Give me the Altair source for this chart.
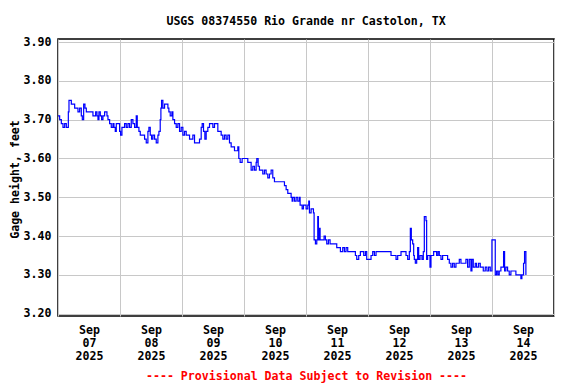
import altair as alt
import pandas as pd

# Hours since 2025-09-07 00:00 and gage height (feet)
hours = [
    0.0, 0.64, 1.29, 1.93, 2.58, 3.22, 3.87, 4.0, 4.25, 4.77, 5.16, 5.80, 6.45, 7.09, 7.73, 8.38,
    9.02, 9.41, 9.93, 10.44, 10.96, 11.6, 12.25, 12.89, 13.53, 14.18, 14.57, 15.08, 15.47, 15.85,
    16.37, 16.89, 17.40, 18.05, 18.43, 18.95, 19.34, 19.98, 20.62, 21.27, 21.66, 22.17, 22.56,
    23.2, 23.85, 24.23, 24.75, 25.14, 25.78, 26.42, 27.07, 27.71, 28.36, 29.0, 29.65, 30.29,
    30.68, 31.32, 31.84, 32.23, 32.87, 33.51, 34.16, 34.8, 35.19, 35.71, 36.22, 36.74, 37.38,
    38.03, 38.67, 39.06, 39.57, 39.83, 40.09, 40.6, 41.25, 41.89, 42.54, 42.92, 43.44, 44.08,
    44.47, 45.12, 45.76, 46.4, 47.05, 47.69, 48.34, 48.98, 49.63, 50.27, 50.92, 51.56, 52.2,
    52.85, 53.49, 54.14, 54.78, 55.43, 55.81, 56.33, 56.85, 57.36, 58.0, 58.65, 59.29, 59.94,
    60.58, 61.23, 61.87, 62.52, 63.16, 63.81, 64.45, 65.09, 65.74, 66.38, 67.03, 67.67, 68.32,
    68.96, 69.61, 69.99, 70.51, 71.28, 72.18, 72.83, 73.47, 74.12, 74.76, 75.41, 76.05, 76.7,
    76.95, 77.47, 77.98, 78.63, 79.27, 79.92, 80.56, 81.21, 81.85, 82.5, 83.14, 83.79, 84.43,
    85.07,
    85.73, 87.02, 87.66, 88.31, 88.95, 89.6, 90.24, 90.63, 90.89, 91.53, 92.18, 92.82, 93.47,
    93.72, 94.11, 94.5, 95.01, 95.4, 96.04, 96.69, 97.07, 97.33, 97.98, 98.62, 98.88, 99.14,
    99.65, 100.17, 100.55, 100.81, 101.2, 101.46, 101.84, 102.49, 103.0, 103.52, 104.03,
    104.68, 105.32, 105.97, 106.61, 107.39, 107.9, 108.67, 109.32, 110.22, 110.87, 111.51,
    112.15, 112.8, 113.44, 114.35, 115.12, 115.64, 116.41, 117.05, 117.7, 118.34, 118.99,
    119.5, 120.28, 121.18, 121.82, 122.47, 123.11, 123.76, 124.4, 125.04, 125.69, 126.33,
    126.98, 127.62, 128.27, 128.91, 129.56, 130.2, 130.85, 131.49, 132.13, 132.78, 133.42,
    134.07, 134.71, 135.36, 136.0, 136.39, 136.77, 137.29, 137.68, 137.93, 138.32, 138.84,
    139.22, 139.61, 140.13, 140.9, 141.41, 141.8, 142.06, 142.45, 142.7, 143.09, 143.48,
    143.99, 144.38, 145.02, 145.41, 146.06, 146.57, 147.09, 147.6, 148.25, 148.89, 149.54,
    150.18, 150.82, 151.47, 152.11, 152.76, 153.4, 154.05, 154.69, 155.34, 155.98, 156.63,
    157.27, 157.91, 158.56, 159.2, 159.85, 160.23, 160.75, 161.52, 162.04, 162.81, 163.46,
    164.1, 164.62, 165.39, 166.03, 166.68, 167.32, 167.97, 168.48, 168.87, 169.26, 169.77,
    170.29, 170.8, 171.45, 172.09, 172.48, 172.87, 173.38, 174.03, 174.67, 175.32, 175.96,
    176.61, 177.25, 177.89, 178.54, 179.18, 179.57, 180.21, 180.6, 181.12,
]

gage_ft = [
    3.71, 3.70, 3.69, 3.68, 3.69, 3.68, 3.68, 3.72, 3.75, 3.75, 3.74, 3.74, 3.73, 3.73, 3.72, 3.73,
    3.71, 3.70, 3.74, 3.73, 3.72, 3.72, 3.72, 3.72, 3.71, 3.71, 3.72, 3.71, 3.70, 3.72,
    3.71, 3.70, 3.71, 3.72, 3.72, 3.71, 3.70, 3.69, 3.68, 3.69, 3.68, 3.67, 3.69,
    3.69, 3.67, 3.66, 3.68, 3.68, 3.69, 3.68, 3.69, 3.68, 3.70, 3.69, 3.68, 3.71,
    3.68, 3.67, 3.66, 3.66, 3.66, 3.65, 3.64, 3.67, 3.68, 3.66, 3.65, 3.66, 3.65,
    3.64, 3.66, 3.67, 3.70, 3.73, 3.75, 3.73, 3.74, 3.74, 3.73, 3.72, 3.71, 3.72,
    3.70, 3.69, 3.68, 3.69, 3.67, 3.68, 3.66, 3.67, 3.66, 3.66, 3.65, 3.65, 3.66,
    3.64, 3.64, 3.64, 3.65, 3.68, 3.69, 3.67, 3.65, 3.67, 3.68, 3.69, 3.69, 3.68,
    3.69, 3.69, 3.67, 3.67, 3.66, 3.65, 3.66, 3.65, 3.66, 3.64, 3.63, 3.63, 3.62,
    3.62, 3.63, 3.60, 3.59, 3.60, 3.60, 3.60, 3.59, 3.59, 3.57, 3.58, 3.57, 3.59,
    3.60, 3.58, 3.57, 3.57, 3.56, 3.57, 3.56, 3.55, 3.56, 3.57, 3.55, 3.54, 3.54,
    3.54,
    3.54, 3.54, 3.53, 3.52, 3.51, 3.51, 3.50, 3.49, 3.50, 3.49, 3.50, 3.49, 3.50,
    3.48, 3.48, 3.47, 3.48, 3.48, 3.47, 3.48, 3.49, 3.46, 3.47, 3.47, 3.46, 3.39,
    3.38, 3.39, 3.45, 3.39, 3.42, 3.39, 3.39, 3.39, 3.40, 3.39, 3.38,
    3.39, 3.38, 3.38, 3.38, 3.38, 3.37, 3.37, 3.36, 3.37, 3.36, 3.37,
    3.36, 3.36, 3.36, 3.36, 3.35, 3.34, 3.35, 3.36, 3.36, 3.35, 3.36,
    3.34, 3.34, 3.35, 3.36, 3.35, 3.36, 3.36, 3.36, 3.36, 3.36, 3.36,
    3.36, 3.36, 3.36, 3.35, 3.35, 3.35, 3.34, 3.35, 3.35, 3.36, 3.36,
    3.36, 3.35, 3.34, 3.36, 3.42, 3.39, 3.38, 3.35, 3.34, 3.33, 3.34,
    3.37, 3.34, 3.35, 3.34, 3.36, 3.45, 3.45, 3.44, 3.34, 3.35, 3.35,
    3.32, 3.35, 3.35, 3.36, 3.36, 3.35, 3.36, 3.35, 3.34, 3.35, 3.35,
    3.35, 3.34, 3.33, 3.32, 3.33, 3.32, 3.33, 3.33, 3.34, 3.33, 3.33,
    3.33, 3.34, 3.32, 3.34, 3.31, 3.34, 3.32, 3.33, 3.32, 3.33, 3.32,
    3.32, 3.31, 3.32, 3.31, 3.32, 3.31, 3.39, 3.39, 3.39, 3.30, 3.31,
    3.30, 3.31, 3.32, 3.32, 3.36, 3.31, 3.32, 3.31, 3.30, 3.31, 3.31,
    3.31, 3.30, 3.30, 3.30, 3.29, 3.30, 3.33, 3.36, 3.30,
]

day_ticks = [7, 8, 9, 10, 11, 12, 13, 14, 15]
y_ticks = [3.20, 3.30, 3.40, 3.50, 3.60, 3.70, 3.80, 3.90]
title_text = "USGS 08374550 Rio Grande nr Castolon, TX"
y_title = "Gage height, feet"
footer = "---- Provisional Data Subject to Revision ----"

start = pd.Timestamp("2025-09-07 00:00:00")
df = pd.DataFrame({
    "time": [start + pd.Timedelta(hours=h) for h in hours],
    "gage": gage_ft,
})

FONT = "DejaVu Sans Mono"
FS = 11.6

chart = alt.Chart(df).mark_line(
    interpolate="step-after", color="#0000ff", strokeWidth=1.2
).encode(
    x=alt.X(
        "time:T",
        scale=alt.Scale(
            domain=[alt.DateTime(year=2025, month=9, date=7),
                    alt.DateTime(year=2025, month=9, date=15)],
            nice=False,
        ),
        axis=alt.Axis(
            values=[alt.DateTime(year=2025, month=9, date=d) for d in day_ticks],
            grid=True, gridColor="#c8c8c8", gridWidth=1,
            ticks=False, domain=False,
            labelOffset=31, labelFlush=False, labelOverlap=False, labelBound=False,
            labelAlign="center", labelBaseline="top", labelLineHeight=13,
            labelPadding=8,
            labelExpr="date(datum.value) == 15 ? '' : [timeFormat(datum.value, '%b'), timeFormat(datum.value, '%d'), timeFormat(datum.value, '%Y')]",
            labelFont=FONT, labelFontSize=FS, labelFontWeight="bold", labelColor="black",
            title=footer, titleColor="#ff0000", titleFont=FONT, titleFontSize=FS,
            titleFontWeight="bold", titlePadding=9,
        ),
    ),
    y=alt.Y(
        "gage:Q",
        scale=alt.Scale(domain=[3.194, 3.908], nice=False, zero=False),
        axis=alt.Axis(
            values=y_ticks, format=".2f",
            grid=True, gridColor="#c8c8c8", gridWidth=1,
            ticks=False, domain=False, labelPadding=7,
            labelFont=FONT, labelFontSize=FS, labelFontWeight="bold", labelColor="black",
            title=y_title, titleFont=FONT, titleFontSize=FS, titleFontWeight="bold",
            titleColor="black", titleX=-43, titleY=140, titleAlign="center",
            titleBaseline="middle", titleAngle=270,
        ),
    ),
).properties(
    width=496,
    height=277,
    autosize="none",
    padding={"left": 50, "top": 31, "right": 14, "bottom": 68},
    background="white",
    title=alt.TitleParams(
        text=title_text, font=FONT, fontSize=FS, fontWeight="bold", color="black",
        anchor="middle", baseline="bottom", offset=14, dy=16,
    ),
).configure_view(
    stroke="black", strokeWidth=1.5
)

chart.save("out.html", embed_options={"renderer": "svg", "actions": False})
